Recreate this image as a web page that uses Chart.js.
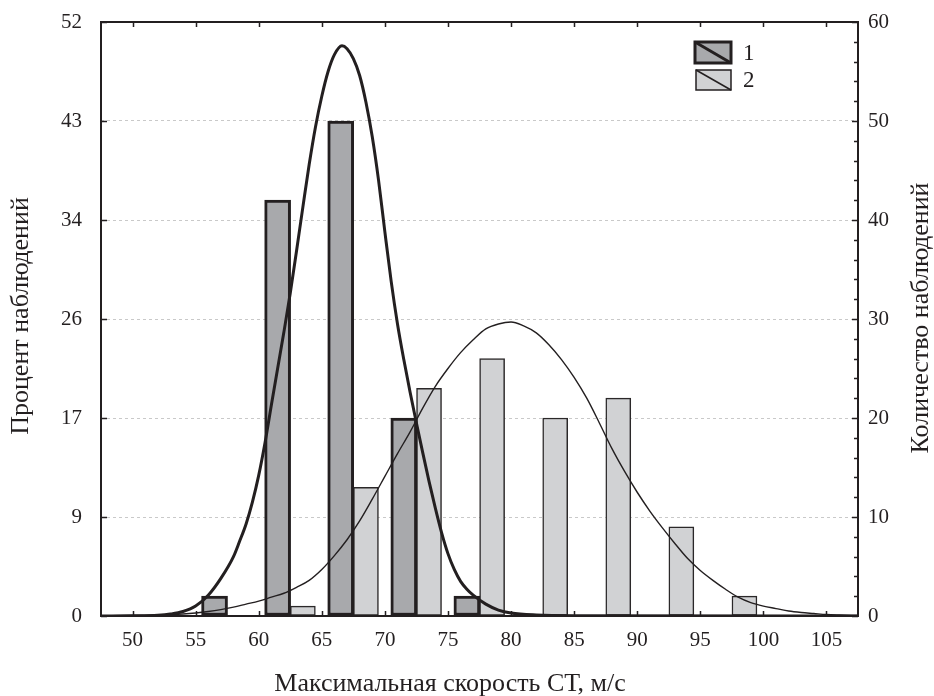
<!DOCTYPE html>
<html>
<head>
<meta charset="utf-8">
<script src="https://cdn.jsdelivr.net/npm/chart.js@4/dist/chart.umd.min.js"></script>
<style>
html,body{margin:0;padding:0;background:#fff;}
canvas{display:block;}
</style>
</head>
<body>
<canvas id="c" width="934" height="696"></canvas>
<script>
// ---- data ----
const xTickValues = [50, 55, 60, 65, 70, 75, 80, 85, 90, 95, 100, 105];
const countTicks = [0, 10, 20, 30, 40, 50, 60];
const percentTickLabels = ['0', '9', '17', '26', '34', '43', '52'];

const series1Label = '1';
const series1Bins = [56.5, 61.5, 66.5, 71.5, 76.5];
const series1Counts = [2, 42, 50, 20, 2];

const series2Label = '2';
const series2Bins = [63.5, 68.5, 73.5, 78.5, 83.5, 88.5, 93.5, 98.5];
const series2Counts = [1, 13, 23, 26, 20, 22, 9, 2];

const curve1X = [47.5, 50, 52, 53, 54, 55, 56, 57, 58, 58.5, 59, 59.5, 60, 60.5, 61, 61.5, 62, 62.5, 63, 63.5, 64, 64.5, 65, 65.5, 66, 66.6, 67, 67.5, 68, 68.5, 69, 69.5, 70, 70.5, 71, 71.5, 72, 72.5, 73, 73.5, 74, 74.5, 75, 75.5, 76, 76.5, 77, 78, 79, 80, 82, 85, 107.5];
const curve1Y = [0, 0.02, 0.08, 0.2, 0.45, 1.0, 2.1, 3.8, 6.0, 7.6, 9.3, 11.5, 14.2, 17.5, 21.3, 25.0, 28.7, 32.6, 36.9, 41.3, 45.6, 49.4, 52.5, 55.0, 56.7, 57.6, 57.3, 56.3, 54.6, 51.9, 48.4, 44.0, 38.8, 33.8, 29.5, 25.9, 22.6, 19.5, 16.5, 13.6, 10.9, 8.4, 6.3, 4.7, 3.5, 2.7, 2.1, 1.2, 0.6, 0.3, 0.1, 0.03, 0];

const curve2X = [47.5, 50, 52, 54, 55, 56, 57, 58, 59, 60, 61, 62, 63, 64, 65, 66, 67, 68, 69, 70, 71, 72, 73, 74, 75, 76, 77, 78, 79, 80, 81, 82, 83, 84, 85, 86, 87, 88, 89, 90, 91, 92, 93, 94, 95, 96, 97, 98, 99, 100, 101, 102, 103, 104, 105, 106, 107.5];
const curve2Y = [0.02, 0.05, 0.1, 0.2, 0.3, 0.45, 0.65, 0.9, 1.2, 1.5, 1.9, 2.3, 2.9, 3.6, 4.7, 6.1, 7.7, 9.6, 11.8, 14.1, 16.4, 18.6, 21.0, 23.2, 25.0, 26.6, 27.9, 29.0, 29.5, 29.7, 29.3, 28.6, 27.4, 25.9, 24.1, 22.0, 19.5, 16.9, 14.6, 12.5, 10.6, 8.9, 7.3, 5.8, 4.6, 3.6, 2.7, 1.9, 1.35, 1.0, 0.75, 0.5, 0.35, 0.25, 0.15, 0.1, 0.05];

const xTitle = 'Максимальная скорость СТ, м/с';
const yLeftTitle = 'Процент наблюдений';
const yRightTitle = 'Количество наблюдений';

// ---- styles ----
const INK = '#231f20';
const DARK_FILL = '#a8a9ac';
const LIGHT_FILL = '#d1d2d4';
const FONT = '"Liberation Serif", "Times New Roman", serif';

Chart.defaults.font.family = FONT;
Chart.defaults.color = INK;

const pts = (xs, ys) => xs.map((x, i) => ({x: x, y: ys[i]}));

const framePlugin = {
  id: 'frame',
  afterDraw(chart) {
    const ctx = chart.ctx;
    const a = chart.chartArea;
    const xs = chart.scales.x, ys = chart.scales.y;
    ctx.save();
    ctx.strokeStyle = INK;
    // ticks
    ctx.lineWidth = 1.5;
    ctx.beginPath();
    xTickValues.forEach(v => {
      const px = Math.round(xs.getPixelForValue(v)) + 0.5;
      ctx.moveTo(px, a.bottom); ctx.lineTo(px, a.bottom - 5);
      ctx.moveTo(px, a.top); ctx.lineTo(px, a.top + 5);
    });
    countTicks.forEach(v => {
      const py = Math.round(ys.getPixelForValue(v)) + 0.5;
      ctx.moveTo(a.left, py); ctx.lineTo(a.left + 6, py);
      ctx.moveTo(a.right, py); ctx.lineTo(a.right - 6, py);
    });
    for (let v = 2; v < 60; v += 2) {
      if (v % 10 === 0) continue;
      const py = Math.round(ys.getPixelForValue(v)) + 0.5;
      ctx.moveTo(a.right, py); ctx.lineTo(a.right - 4, py);
    }
    ctx.stroke();
    // frame
    ctx.lineWidth = 2;
    ctx.strokeRect(a.left, a.top, a.right - a.left, a.bottom - a.top);

    // titles
    ctx.fillStyle = INK;
    ctx.font = '26px ' + FONT;
    ctx.textAlign = 'center';
    ctx.textBaseline = 'middle';
    ctx.fillText(xTitle, 450, 684);
    ctx.save(); ctx.translate(21, 316); ctx.rotate(-Math.PI / 2); ctx.fillText(yLeftTitle, 0, 0); ctx.restore();
    ctx.save(); ctx.translate(921, 318); ctx.rotate(-Math.PI / 2); ctx.fillText(yRightTitle, 0, 0); ctx.restore();

    // legend
    const items = [
      {label: series1Label, fill: DARK_FILL, lw: 3, x: 695, y: 42, w: 36, h: 21},
      {label: series2Label, fill: LIGHT_FILL, lw: 1.5, x: 696, y: 70, w: 35, h: 20}
    ];
    ctx.font = '23px ' + FONT;
    ctx.textAlign = 'left';
    items.forEach(it => {
      ctx.fillStyle = it.fill;
      ctx.fillRect(it.x, it.y, it.w, it.h);
      ctx.lineWidth = it.lw;
      ctx.strokeStyle = INK;
      ctx.strokeRect(it.x, it.y, it.w, it.h);
      ctx.beginPath();
      ctx.moveTo(it.x, it.y); ctx.lineTo(it.x + it.w, it.y + it.h);
      ctx.stroke();
      ctx.fillStyle = INK;
      ctx.fillText(it.label, it.x + it.w + 12, it.y + it.h / 2 + 1);
    });
    ctx.restore();
  }
};

const fitY = w => s => { s.width = w; s.paddingTop = 0; s.paddingBottom = 0; };

new Chart(document.getElementById('c'), {
  type: 'bar',
  data: {
    datasets: [
      {type: 'line', label: 'curve1', data: pts(curve1X, curve1Y), borderColor: INK, borderWidth: 3,
       pointRadius: 0, cubicInterpolationMode: 'monotone', fill: false, order: 0},
      {type: 'line', label: 'curve2', data: pts(curve2X, curve2Y), borderColor: INK, borderWidth: 1.4,
       pointRadius: 0, cubicInterpolationMode: 'monotone', fill: false, order: 0},
      {type: 'bar', label: series1Label, data: pts(series1Bins, series1Counts), backgroundColor: DARK_FILL,
       borderColor: INK, borderWidth: 3, borderSkipped: false, barThickness: 26, grouped: false, order: 1},
      {type: 'bar', label: series2Label, data: pts(series2Bins, series2Counts), backgroundColor: LIGHT_FILL,
       borderColor: '#2b2829', borderWidth: 1.5, borderSkipped: false, barThickness: 25, grouped: false, order: 2}
    ]
  },
  options: {
    responsive: false,
    animation: false,
    devicePixelRatio: 1,
    layout: {padding: {top: 22, left: 0, right: 0, bottom: 0}},
    plugins: {legend: {display: false}, tooltip: {enabled: false}},
    scales: {
      x: {
        type: 'linear', min: 47.5, max: 107.5, offset: false,
        afterBuildTicks: s => { s.ticks = xTickValues.map(v => ({value: v})); },
        afterFit: s => { s.height = 80; s.paddingLeft = 0; s.paddingRight = 0; },
        grid: {display: false, drawTicks: false},
        border: {display: false},
        ticks: {font: {size: 21}, padding: 12, color: INK, maxRotation: 0}
      },
      y: {
        position: 'left', min: 0, max: 60,
        afterBuildTicks: s => { s.ticks = countTicks.map(v => ({value: v})); },
        afterFit: fitY(101),
        grid: {drawTicks: false, color: c => (c.tick && (c.tick.value === 0 || c.tick.value === 60)) ? 'rgba(0,0,0,0)' : '#c9c9c9', lineWidth: 1},
        border: {display: false, dash: [3, 3]},
        ticks: {font: {size: 21}, padding: 19, color: INK, callback: (v, i) => percentTickLabels[i]}
      },
      y2: {
        position: 'right', min: 0, max: 60,
        afterBuildTicks: s => { s.ticks = countTicks.map(v => ({value: v})); },
        afterFit: fitY(76),
        grid: {display: false, drawTicks: false},
        border: {display: false},
        ticks: {font: {size: 21}, padding: 10, color: INK, callback: v => String(v)}
      }
    }
  },
  plugins: [framePlugin]
});
</script>
</body>
</html>
